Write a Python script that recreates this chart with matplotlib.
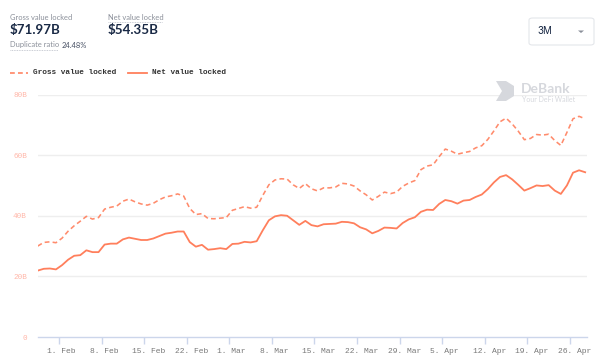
import matplotlib
matplotlib.use("Agg")
import matplotlib.pyplot as plt
import matplotlib.dates as mdates
import matplotlib.transforms as mtrans
from matplotlib.patches import FancyBboxPatch, Polygon
import pandas as pd

# ---------------- data ----------------
start = "2021-01-28 12:00"
gross_values = [
    30.0, 31.2, 31.4, 31.1, 32.6, 34.9, 36.7, 38.2, 39.8, 38.9,
    39.4, 42.2, 42.8, 43.2, 44.8, 45.5, 44.6, 43.9, 43.5, 44.1,
    45.3, 46.2, 46.6, 47.2, 46.5, 42.4, 40.4, 40.7, 39.1, 39.0,
    39.2, 39.4, 41.8, 42.4, 43.0, 42.5, 42.8, 46.7, 50.2, 51.8,
    52.2, 52.1, 50.2, 49.0, 50.6, 48.9, 48.2, 49.2, 49.2, 49.5,
    50.7, 50.5, 49.8, 48.2, 46.9, 45.2, 46.4, 47.8, 47.3, 47.8,
    49.7, 50.8, 51.6, 55.2, 56.4, 56.8, 59.5, 62.0, 61.3, 60.3,
    60.8, 61.2, 62.4, 63.1, 65.2, 68.0, 71.0, 72.2, 70.3, 67.9,
    65.1, 65.5, 66.8, 66.6, 66.9, 64.8, 63.2, 67.5, 72.0, 72.8,
    71.97,
]
net_values = [
    21.9, 22.5, 22.6, 22.3, 23.7, 25.5, 26.8, 27.0, 28.6, 28.0,
    28.0, 30.5, 30.8, 30.8, 32.2, 32.8, 32.4, 32.0, 32.0, 32.5,
    33.3, 34.1, 34.4, 34.8, 34.8, 31.3, 29.8, 30.4, 28.8, 29.0,
    29.3, 29.0, 30.7, 30.8, 31.4, 31.2, 31.6, 35.2, 38.5, 39.8,
    40.2, 40.0, 38.5, 37.0, 38.3, 36.9, 36.5, 37.2, 37.3, 37.4,
    38.0, 37.9, 37.5, 36.2, 35.5, 34.2, 35.0, 36.1, 36.0, 35.8,
    37.6, 38.8, 39.5, 41.3, 42.0, 41.9, 43.9, 45.2, 44.8, 44.0,
    45.0, 45.2, 46.2, 47.0, 48.8, 51.0, 52.8, 53.4, 52.0, 50.2,
    48.3, 49.1, 50.0, 49.8, 50.1, 48.3, 47.2, 50.0, 54.2, 55.0,
    54.35,
]
dates = pd.date_range(start, periods=len(gross_values), freq="D")
tick_dates = pd.date_range("2021-02-01", "2021-04-26", freq="7D")
tick_labels = [f"{d.day}. {d.strftime('%b')}" for d in tick_dates]
y_ticks = [0, 20, 40, 60, 80]
y_labels = ["0", "20B", "40B", "60B", "80B"]

gross_total = "$71.97B"
net_total = "$54.35B"
dup_ratio = "24.48%"
series_names = ["Gross value locked", "Net value locked"]

# ---------------- styling ----------------
W, H = 602, 361
fig = plt.figure(figsize=(W / 100, H / 100), dpi=100)
fig.patch.set_facecolor("white")

LINE = "#ff7f5c"
GRID = "#eeeeee"
AXIS = "#ccd6eb"
MONO = ["Liberation Mono", "DejaVu Sans Mono"]
SANS = ["Lato", "DejaVu Sans"]

def fx(px):
    return px / W

def fy(py):
    return 1 - py / H

ax = fig.add_axes([fx(38), fy(337), fx(587) - fx(38), fy(94.5) - fy(337)])
ax.set_facecolor("white")

x_num = mdates.date2num(dates)
ax.plot(x_num, gross_values, color=LINE, lw=1.15, ls=(0, (3, 2)), alpha=0.9)
ax.plot(x_num, net_values, color=LINE, lw=1.3)

ax.set_xlim(mdates.date2num(pd.Timestamp("2021-02-01")) - 3.45,
            mdates.date2num(pd.Timestamp("2021-02-01")) + 86.8)
ax.set_ylim(0, 80)

for s in ["top", "right", "left"]:
    ax.spines[s].set_visible(False)
ax.spines["bottom"].set_color(AXIS)
ax.spines["bottom"].set_linewidth(1)

ax.set_yticks(y_ticks)
ax.set_yticklabels(y_labels, family=MONO, fontsize=5.5, color="#ffb6a8")
ax.tick_params(axis="y", length=0, pad=8)
for yv in y_ticks[1:]:
    ax.axhline(yv, color=GRID, lw=1, zorder=0)

ax.set_xticks(mdates.date2num(tick_dates))
ax.set_xticklabels(tick_labels, family=MONO, fontsize=5.8, color="#777777")
ax.tick_params(axis="x", length=5, color=AXIS, width=1, pad=3)
offset = mtrans.ScaledTranslation(-12 / 100, 0, fig.dpi_scale_trans)
for lab in ax.get_xticklabels():
    lab.set_horizontalalignment("left")
    lab.set_transform(lab.get_transform() + offset)

# ---------------- header ----------------
fig.text(fx(10), fy(17), "Gross value locked", family=SANS, fontsize=5.4,
         color="#8a8f99", va="center")
fig.text(fx(10), fy(30), gross_total, family=SANS, fontsize=9.6,
         color="#192945", va="center", weight="bold")
fig.text(fx(108), fy(17), "Net value locked", family=SANS, fontsize=5.4,
         color="#8a8f99", va="center")
fig.text(fx(108), fy(30), net_total, family=SANS, fontsize=9.6,
         color="#192945", va="center", weight="bold")
fig.text(fx(10), fy(45), "Duplicate ratio", family=SANS, fontsize=5.4,
         color="#8a8f99", va="center")
fig.text(fx(62), fy(45), dup_ratio, family=SANS, fontsize=5.4,
         color="#4a5366", va="center")
# dotted underlines
for x0, x1, yy in [(108, 162, 22), (10, 58, 50)]:
    fig.add_artist(plt.Line2D([fx(x0), fx(x1)], [fy(yy), fy(yy)],
                              color="#b8bcc6", lw=0.6, ls=(0, (1, 1))))

# dropdown
box = FancyBboxPatch((fx(529), fy(45)), fx(594) - fx(529), fy(18) - fy(45),
                     boxstyle="round,pad=0,rounding_size=0.006",
                     transform=fig.transFigure, facecolor="white",
                     edgecolor="#e4e6ea", lw=0.8)
fig.add_artist(box)
fig.text(fx(537), fy(31.5), "3M", family=["Inter", "DejaVu Sans"], fontsize=7,
         color="#192945", va="center")
fig.add_artist(Polygon([[fx(578), fy(30.5)], [fx(584), fy(30.5)], [fx(581), fy(33)]],
                       closed=True, transform=fig.transFigure,
                       facecolor="#8a8f99", edgecolor="none"))

# legend
fig.add_artist(plt.Line2D([fx(10), fx(28)], [fy(73), fy(73)], color=LINE,
                          lw=1.15, ls=(0, (3, 2))))
fig.text(fx(33), fy(73), series_names[0], family=MONO, fontsize=5.6,
         color="#333333", va="center", weight="bold")
fig.add_artist(plt.Line2D([fx(128), fx(147)], [fy(73), fy(73)], color=LINE, lw=1.3))
fig.text(fx(152), fy(73), series_names[1], family=MONO, fontsize=5.6,
         color="#333333", va="center", weight="bold")

# watermark
WM = "#d6d8dd"
fig.add_artist(Polygon([[fx(496), fy(81)], [fx(506), fy(81)], [fx(514), fy(86)],
                        [fx(514), fy(96)], [fx(506), fy(101)], [fx(496), fy(101)],
                        [fx(502), fy(91)]], closed=True,
                       transform=fig.transFigure, facecolor=WM, edgecolor="none"))
fig.text(fx(521), fy(89), "DeBank", family=SANS, fontsize=10, color=WM,
         va="center", weight="bold")
fig.text(fx(522), fy(99), "Your DeFi Wallet", family=SANS, fontsize=5,
         color=WM, va="center")

fig.savefig("out.png", dpi=100, facecolor="white")
